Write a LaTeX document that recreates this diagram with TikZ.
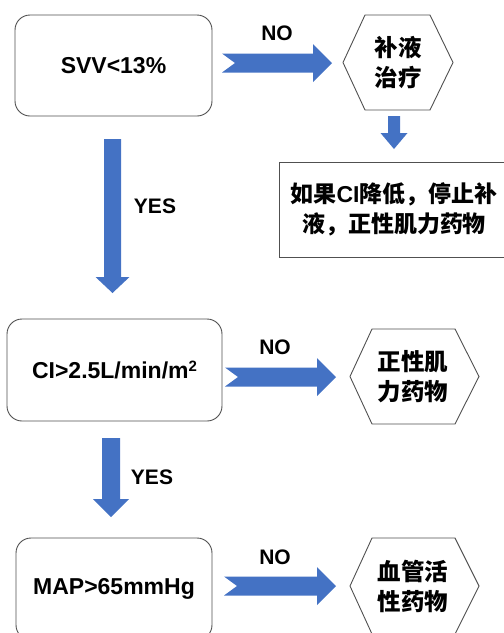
\documentclass[tikz,border=0pt]{standalone}
\usepackage{fontspec}
\setmainfont{Liberation Sans}
\newfontfamily\cjk{Noto Sans CJK SC}
\usetikzlibrary{calc}
\definecolor{arrowblue}{RGB}{68,114,196}
\definecolor{edgegray}{RGB}{80,80,80}
\newcommand\rblockarrow[3]{% tail x, tip x, centre y
  \fill[arrowblue] (#1,{#3-9.5}) -- ({#2-19},{#3-9.5}) -- ({#2-19},{#3-19}) -- (#2,#3)
    -- ({#2-19},{#3+19}) -- ({#2-19},{#3+9.5}) -- (#1,{#3+9.5}) -- ({#1+13},#3) -- cycle;}
\newcommand\dblockarrow[6]{% centre x, top y, head y, tip y, shaft half, head half
  \fill[arrowblue] ({#1-#5},#2) -- ({#1+#5},#2) -- ({#1+#5},#3) -- ({#1+#6},#3) -- (#1,#4)
    -- ({#1-#6},#3) -- ({#1-#5},#3) -- cycle;}
\newcommand\hexshape[6]{% left x, right x, top y, bottom y, left inset, right inset
  \draw[hexline] (#1,{(#3+#4)/2}) -- ({#1+#5},#3) -- ({#2-#6},#3) -- (#2,{(#3+#4)/2})
    -- ({#2-#6},#4) -- ({#1+#5},#4) -- cycle;}
\begin{document}
\begin{tikzpicture}[x=1pt,y=-1pt,
  decision/.style={draw=edgegray,line width=0.9pt,rounded corners=15pt,
    font=\fontsize{23}{28}\selectfont\bfseries,inner sep=0pt},
  hexline/.style={draw=edgegray,line width=0.9pt},
  hextext/.style={font=\fontsize{23.5}{30}\selectfont\cjk\bfseries,align=center,inner sep=0pt},
  notebox/.style={draw=edgegray,line width=0.9pt,inner sep=0pt},
  notetext/.style={font=\fontsize{23}{30}\selectfont\cjk\bfseries,align=center,inner sep=0pt},
  lbl/.style={font=\fontsize{21}{25}\selectfont\bfseries,inner sep=0pt}]
\useasboundingbox (0,0) rectangle (504,633);
% decision boxes
\node[decision,minimum width=197pt,minimum height=101pt] (b1) at (113.5,65.5) {SVV<13\%};
\node[decision,minimum width=215pt,minimum height=102pt] (b2) at (114.5,370) {CI>2.5L/min/m\raisebox{0.55ex}{\fontsize{15}{15}\selectfont 2}};
\node[decision,minimum width=196pt,minimum height=102pt] (b3) at (114,589) {MAP>65mmHg};
% hexagons
\hexshape{343}{453}{15}{110}{22}{23}
\node[hextext] (h1) at (398,63) {补液\\治疗};
\hexshape{350}{479}{329}{424}{22}{24}
\node[hextext] (h2) at (413,377) {正性肌\\力药物};
\hexshape{350}{479}{538}{634}{22}{24}
\node[hextext] (h3) at (413,586) {血管活\\性药物};
% note box
\node[notebox,minimum width=226pt,minimum height=95pt] (n1) at (392,209.5) {};
\node[notetext] (n1t) at (394,209) {如果{\fontspec{Liberation Sans}\bfseries CI}降低，停止补\\液，正性肌力药物};
% arrows
\rblockarrow{222}{332}{63}
\rblockarrow{225}{336}{377}
\rblockarrow{224}{336}{586}
\dblockarrow{112.5}{139}{277}{293}{8.5}{17}
\dblockarrow{111}{438}{499}{517}{9}{18}
\dblockarrow{394}{116}{133}{149}{6}{13.5}
% labels
\node[lbl] (no1) at (277,33) {NO};
\node[lbl] (no2) at (275,347) {NO};
\node[lbl] (no3) at (275,557) {NO};
\node[lbl] (yes1) at (155,206) {YES};
\node[lbl] (yes2) at (152,477) {YES};
\end{tikzpicture}
\end{document}
